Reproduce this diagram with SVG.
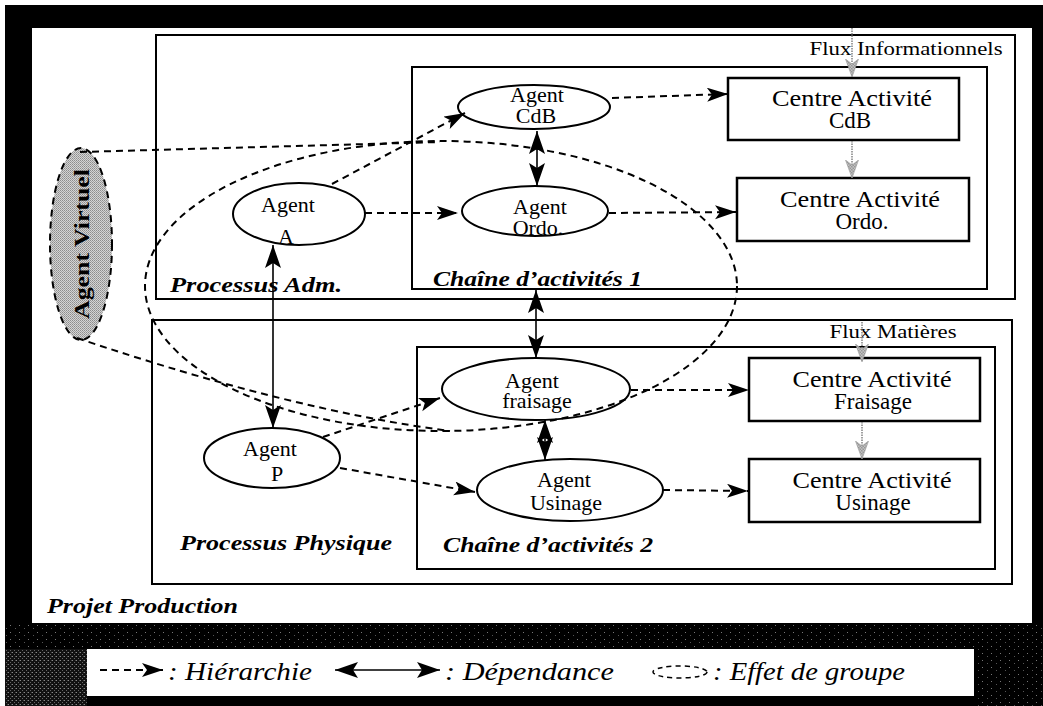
<svg xmlns="http://www.w3.org/2000/svg" width="1043" height="706" viewBox="0 0 1043 706">
<style>
.box{fill:none;stroke:#000;stroke-width:2}
.cbox{fill:#fff;stroke:#000;stroke-width:2.5}
.agent{fill:none;stroke:#000;stroke-width:2}
.dash{fill:none;stroke:#000;stroke-width:2;stroke-dasharray:7 5}
.hier{fill:none;stroke:#000;stroke-width:2;stroke-dasharray:7 5;marker-end:url(#mh)}
.dep{fill:none;stroke:#000;stroke-width:1.6;marker-start:url(#md);marker-end:url(#md)}
.flux{fill:none;stroke:#8a8a8a;stroke-width:1.6;stroke-dasharray:1.5 1;marker-end:url(#mf)}
text{font-family:"Liberation Serif","Times New Roman",serif;fill:#000}
.t{font-size:23px;text-anchor:middle}
.a{font-size:22px;text-anchor:middle}
.f{font-size:18px;text-anchor:middle}
.lbl{font-size:22px;font-weight:bold;font-style:italic}
.leg{font-size:25px;font-style:italic}
</style>
<defs>
<pattern id="hatch" width="3" height="3" patternUnits="userSpaceOnUse">
<rect width="3" height="3" fill="#d8d8d8"/>
<rect width="1.5" height="1.5" fill="#808080"/>
<rect x="1.5" y="1.5" width="1.5" height="1.5" fill="#808080"/>
</pattern>
<pattern id="gray" width="2" height="2" patternUnits="userSpaceOnUse">
<rect width="2" height="2" fill="#d4d4d4"/>
<rect width="1" height="1" fill="#8c8c8c"/>
<rect x="1" y="1" width="1" height="1" fill="#a0a0a0"/>
</pattern>
<pattern id="speck" width="9" height="7" patternUnits="userSpaceOnUse">
<rect width="9" height="7" fill="#000"/>
<rect x="1" y="2" width="1" height="1" fill="#777"/>
<rect x="6" y="5" width="1" height="1" fill="#555"/>
</pattern>
<pattern id="speck2" width="4" height="4" patternUnits="userSpaceOnUse">
<rect width="4" height="4" fill="#111"/>
<rect x="0" y="0" width="1" height="1" fill="#888"/>
<rect x="2" y="2" width="1" height="1" fill="#666"/>
<rect x="3" y="0" width="1" height="1" fill="#444"/>
</pattern>
<marker id="mh" markerUnits="userSpaceOnUse" markerWidth="21" markerHeight="15" refX="21" refY="7" orient="auto">
<path d="M0,0 L21,7 L0,14 L5,7 z" fill="#000"/>
</marker>
<marker id="md" markerUnits="userSpaceOnUse" markerWidth="23" markerHeight="16" refX="23" refY="8" orient="auto-start-reverse">
<path d="M0,0 L23,8 L0,16 L5,8 z" fill="#000"/>
</marker>
<marker id="mf" markerUnits="userSpaceOnUse" markerWidth="18" markerHeight="14" refX="18" refY="6.5" orient="auto">
<path d="M0,0 L18,6.5 L0,13 L5,6.5 z" fill="url(#hatch)" stroke="#999" stroke-width="0.6"/>
</marker>
</defs>

<rect width="1043" height="706" fill="#fff"/>
<rect x="5" y="5" width="1038" height="701" fill="#000"/>
<rect x="5" y="623" width="1038" height="26" fill="url(#speck)"/>
<rect x="5" y="649" width="82" height="57" fill="url(#speck2)"/>
<rect x="974" y="649" width="69" height="57" fill="url(#speck)"/>
<rect x="32" y="28" width="1000" height="595" fill="#fff"/>

<g id="processus-adm">
<rect class="box" x="156" y="35" width="859" height="264"/>
<text class="lbl" x="170" y="292" textLength="172" lengthAdjust="spacingAndGlyphs">Processus Adm.</text>
</g>
<g id="chaine-1">
<rect class="box" x="412" y="67" width="575" height="222"/>
<text class="lbl" x="433" y="286" textLength="209" lengthAdjust="spacingAndGlyphs">Chaîne d’activités 1</text>
</g>
<g id="processus-physique">
<rect class="box" x="152" y="320" width="860" height="264"/>
<text class="lbl" x="180" y="550" textLength="212" lengthAdjust="spacingAndGlyphs">Processus Physique</text>
</g>
<g id="chaine-2">
<rect class="box" x="417" y="347" width="578" height="222"/>
<text class="lbl" x="443" y="552" textLength="210" lengthAdjust="spacingAndGlyphs">Chaîne d’activités 2</text>
</g>
<g id="projet-production">
<text class="lbl" x="47" y="613" textLength="191" lengthAdjust="spacingAndGlyphs">Projet Production</text>
</g>

<g id="centre-cdb">
<rect class="cbox" x="728" y="78" width="231" height="62"/>
<text class="t" x="852" y="106" textLength="160" lengthAdjust="spacingAndGlyphs">Centre Activité</text>
<text class="t" x="850" y="128">CdB</text>
</g>
<g id="centre-ordo">
<rect class="cbox" x="737" y="178" width="232" height="63"/>
<text class="t" x="860" y="207" textLength="160" lengthAdjust="spacingAndGlyphs">Centre Activité</text>
<text class="t" x="862" y="229">Ordo.</text>
</g>
<g id="centre-fraisage">
<rect class="cbox" x="749" y="358" width="231" height="63"/>
<text class="t" x="872" y="387" textLength="159" lengthAdjust="spacingAndGlyphs">Centre Activité</text>
<text class="t" x="873" y="409">Fraisage</text>
</g>
<g id="centre-usinage">
<rect class="cbox" x="749" y="459" width="231" height="63"/>
<text class="t" x="872" y="488" textLength="159" lengthAdjust="spacingAndGlyphs">Centre Activité</text>
<text class="t" x="873" y="510">Usinage</text>
</g>

<g id="flux-informationnels">
<text class="f" x="906" y="55" textLength="193" lengthAdjust="spacingAndGlyphs">Flux Informationnels</text>
</g>
<g id="flux-matieres">
<text class="f" x="893" y="338" textLength="127" lengthAdjust="spacingAndGlyphs">Flux Matières</text>
</g>

<g id="groupe">
<ellipse class="dash" cx="441" cy="286" rx="296" ry="145"/>
</g>

<g id="agent-virtuel">
<ellipse cx="81" cy="244" rx="31" ry="96" fill="url(#gray)" stroke="#000" stroke-width="2" stroke-dasharray="7 5"/>
<text transform="translate(81,244) rotate(-90)" x="0" y="8" style="font-size:22px;font-weight:bold;text-anchor:middle" textLength="150" lengthAdjust="spacingAndGlyphs">Agent Virtuel</text>
</g>

<g id="agent-cdb">
<ellipse class="agent" cx="534" cy="107" rx="76" ry="22"/>
<text class="a" x="537" y="102">Agent</text>
<text class="a" x="536" y="123">CdB</text>
</g>
<g id="agent-ordo">
<ellipse class="agent" cx="535" cy="211" rx="73" ry="25"/>
<text class="a" x="540" y="214">Agent</text>
<text class="a" x="538" y="235">Ordo.</text>
</g>
<g id="agent-a">
<ellipse class="agent" cx="299" cy="214" rx="66" ry="31"/>
<text class="a" x="288" y="212">Agent</text>
<text class="a" x="286" y="244">A</text>
</g>
<g id="agent-p">
<ellipse class="agent" cx="272" cy="458" rx="68" ry="30"/>
<text class="a" x="270" y="456">Agent</text>
<text class="a" x="277" y="481">P</text>
</g>
<g id="agent-fraisage">
<ellipse class="agent" cx="536" cy="389" rx="94" ry="31"/>
<text class="a" x="532" y="388">Agent</text>
<text class="a" x="537" y="408">fraisage</text>
</g>
<g id="agent-usinage">
<ellipse class="agent" cx="570" cy="490" rx="93" ry="31"/>
<text class="a" x="564" y="487">Agent</text>
<text class="a" x="566" y="510">Usinage</text>
</g>

<g id="connectors">
<path class="dash" d="M80,152 L440,142"/>
<path class="dash" d="M77,338 Q290,410 450,431"/>
<path class="hier" d="M332,184 L465,113"/>
<path class="hier" d="M365,213 L458,213"/>
<path class="hier" d="M612,98 L728,94"/>
<path class="hier" d="M609,213 L736,212"/>
<path class="hier" d="M323,437 L440,398"/>
<path class="hier" d="M340,468 L475,492"/>
<path class="hier" d="M631,390 L749,390"/>
<path class="hier" d="M663,490 L748,491"/>
<path class="dep" d="M537,131 L537,186"/>
<path class="dep" d="M273,245 L273,428"/>
<path class="dep" d="M536,290 L536,358"/>
<path class="dep" d="M545,420 L545,460"/>
<path class="flux" d="M852,28 L852,77"/>
<path class="flux" d="M852,141 L852,178"/>
<path class="flux" d="M862,322 L862,362"/>
<path class="flux" d="M862,422 L862,459"/>
</g>

<g id="legende">
<rect x="87" y="649" width="887" height="47" fill="#fff"/>
<path class="hier" d="M100,670 L163,670"/>
<text class="leg" x="168" y="680" textLength="144" lengthAdjust="spacingAndGlyphs">: Hiérarchie</text>
<path class="dep" d="M335,670 L440,670"/>
<text class="leg" x="445" y="680" textLength="169" lengthAdjust="spacingAndGlyphs">: Dépendance</text>
<ellipse cx="680" cy="672" rx="27" ry="6" fill="none" stroke="#000" stroke-width="1.5" stroke-dasharray="5 4"/>
<text class="leg" x="713" y="680" textLength="192" lengthAdjust="spacingAndGlyphs">: Effet de groupe</text>
</g>
</svg>
